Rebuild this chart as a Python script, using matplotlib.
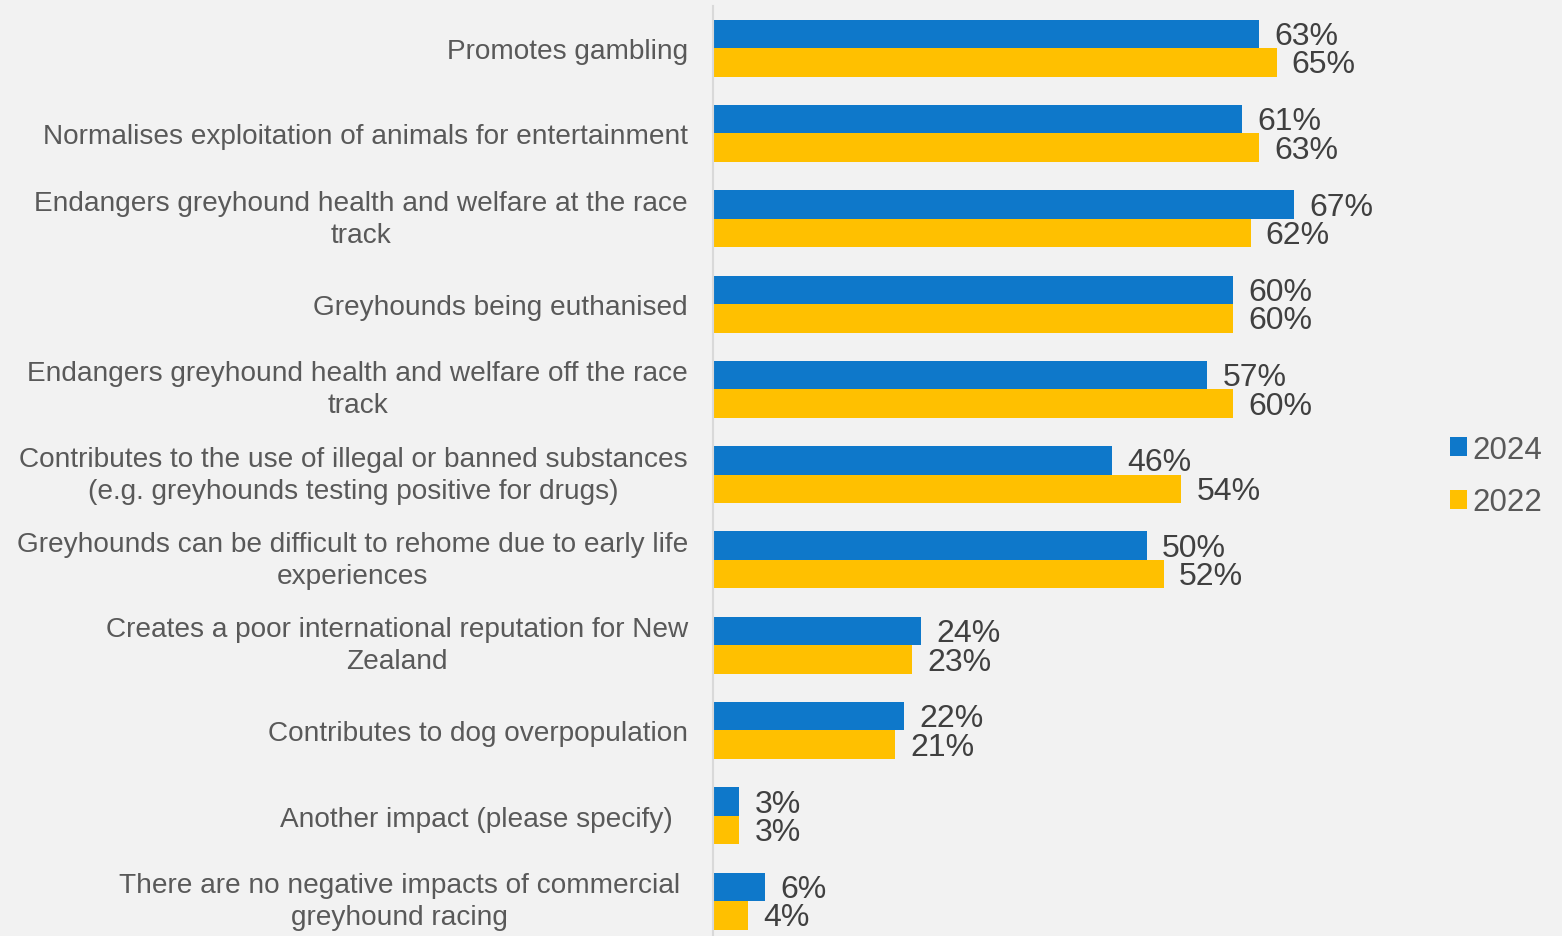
import matplotlib.pyplot as plt
import numpy as np

categories = [
    'Promotes gambling',
    'Normalises exploitation of animals for entertainment',
    'Endangers greyhound health and welfare at the race\ntrack',
    'Greyhounds being euthanised',
    'Endangers greyhound health and welfare off the race\ntrack',
    'Contributes to the use of illegal or banned substances\n(e.g. greyhounds testing positive for drugs)',
    'Greyhounds can be difficult to rehome due to early life\nexperiences',
    'Creates a poor international reputation for New\nZealand',
    'Contributes to dog overpopulation',
    'Another impact (please specify)  ',
    'There are no negative impacts of commercial \ngreyhound racing ',
]
vals_2024 = [63, 61, 67, 60, 57, 46, 50, 24, 22, 3, 6]
vals_2022 = [65, 63, 62, 60, 60, 54, 52, 23, 21, 3, 4]

BLUE = '#0E78CA'
YELLOW = '#FFC000'
BG = '#F2F2F2'

plt.rcParams['font.family'] = ['Liberation Sans', 'DejaVu Sans']

fig = plt.figure(figsize=(15.62, 9.37), dpi=100, facecolor=BG)
ax = fig.add_axes([713 / 1562, 0, (1430 - 713) / 1562, 1 - 6.5 / 937])
ax.set_facecolor(BG)

y = np.arange(len(categories))
h = 0.334
ax.barh(y - h / 2, vals_2024, h, color=BLUE, label='2024')
ax.barh(y + h / 2, vals_2022, h, color=YELLOW, label='2022')

# value labels, nudged slightly down like the original
for offs, vals in ((-h / 2, vals_2024), (h / 2, vals_2022)):
    for yi, v in zip(y, vals):
        ax.annotate(f'{v}%', xy=(v, yi + offs), xytext=(11, -1.5),
                    textcoords='offset points', va='center', ha='left',
                    fontsize=23, color='#404040')

ax.set_xlim(0, (1430 - 713) / 8.67)
ax.set_ylim(10 + (937 - 902) / 85.4, -0.5)
ax.set_yticks(y)
ax.set_yticklabels(categories, fontsize=20.2, color='#595959', linespacing=1.3)
for t in ax.get_yticklabels():
    t.set_multialignment('center')
    if '\n' in t.get_text():
        t.set_verticalalignment('center')
ax.tick_params(axis='y', length=0, pad=18)
ax.set_xticks([])
for s in ('top', 'right', 'bottom'):
    ax.spines[s].set_visible(False)
ax.spines['left'].set_color('#D9D9D9')
ax.spines['left'].set_linewidth(1.5)

fig.legend(loc='center left', bbox_to_anchor=(1450 / 1562, 1 - 477 / 937),
           frameon=False, fontsize=22.5, handlelength=0.55, handleheight=0.55,
           handletextpad=0.15, labelspacing=0.72, borderpad=0, borderaxespad=0,
           labelcolor='#595959')

fig.savefig('out.png', dpi=100, facecolor=BG)
